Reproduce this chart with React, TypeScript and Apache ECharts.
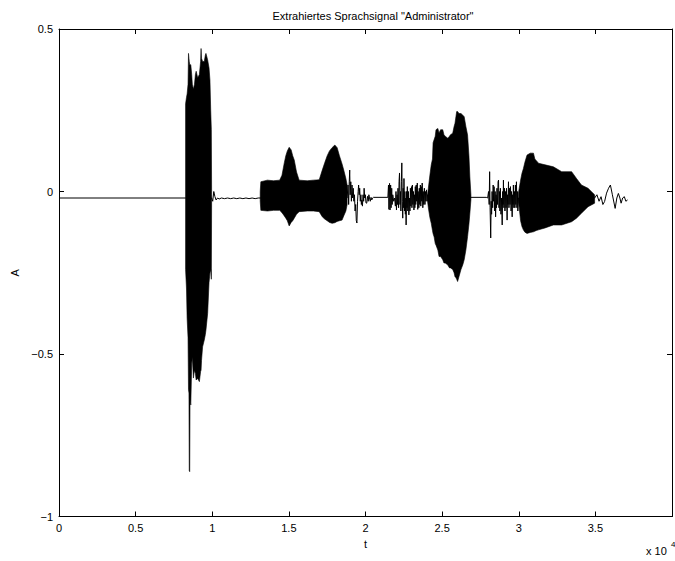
import React, { useEffect, useRef } from "react";
import * as echarts from "echarts";

// ---- data (t in units of 10^4 samples, A amplitude) ----
const titleText = 'Extrahiertes Sprachsignal "Administrator"';
const xTickStep = 0.5;
const yTickStep = 0.5;

// sparse parts of the signal, drawn as a line
const tracePoints: [number, number][] = [
  [0, -0.02], [0.826, -0.02], [0.996, -0.02],
  [1.003, -0.03], [1.01, 0.0], [1.017, -0.015], [1.025, -0.026], [1.035, -0.02], [1.045, -0.023],
  [1.06, -0.02], [1.08, -0.022], [1.1, -0.02], [1.12, -0.022], [1.14, -0.02], [1.16, -0.022],
  [1.18, -0.02], [1.2, -0.022], [1.22, -0.02], [1.24, -0.022], [1.26, -0.02], [1.28, -0.022],
  [1.3, -0.02], [1.313, -0.02],
  [1.88, -0.02],
  [1.886, 0.02], [1.89, -0.04], [1.894, 0.03], [1.897, 0.066], [1.9, -0.01], [1.904, 0.03],
  [1.908, -0.03], [1.912, 0.02], [1.916, -0.02], [1.92, 0.01], [1.924, -0.03], [1.928, -0.01],
  [1.932, -0.06], [1.936, -0.04], [1.94, -0.09], [1.944, -0.097], [1.948, -0.03], [1.952, 0.0],
  [1.955, 0.02], [1.959, -0.01], [1.962, 0.01], [1.966, -0.03], [1.97, -0.01], [1.973, -0.04],
  [1.976, -0.026], [1.98, -0.045], [1.984, -0.01], [1.988, -0.03], [1.991, 0.01], [1.995, -0.02],
  [1.999, -0.01], [2.003, -0.035], [2.008, -0.036], [2.013, -0.015], [2.018, -0.03], [2.022, -0.01],
  [2.026, -0.02], [2.031, -0.03], [2.036, -0.018], [2.041, -0.026], [2.046, -0.02], [2.052, -0.018],
  [2.146, -0.018],
  [2.15, 0.02], [2.153, -0.055], [2.157, 0.025], [2.16, -0.057], [2.164, 0.02], [2.167, -0.05],
  [2.171, 0.01], [2.174, -0.04], [2.178, -0.01], [2.184, -0.03], [2.19, -0.02],
  [2.195, -0.045], [2.199, 0.0], [2.202, -0.057], [2.206, -0.01], [2.209, -0.04], [2.212, 0.01],
  [2.216, -0.05], [2.219, 0.03], [2.222, 0.057], [2.225, -0.04], [2.228, 0.0], [2.231, -0.06],
  [2.234, 0.03], [2.237, 0.088], [2.24, -0.03], [2.243, -0.082], [2.246, 0.01], [2.249, -0.05],
  [2.251, 0.04], [2.254, -0.06], [2.257, 0.0], [2.26, -0.07], [2.263, -0.02], [2.265, -0.103],
  [2.268, 0.0], [2.271, -0.05], [2.273, 0.015], [2.276, -0.06], [2.28, 0.0], [2.283, -0.072],
  [2.286, -0.02], [2.29, -0.06], [2.293, 0.01], [2.296, -0.045], [2.3, 0.015], [2.303, -0.05],
  [2.306, 0.02], [2.309, -0.04], [2.313, 0.0], [2.316, -0.057], [2.319, -0.01], [2.322, -0.05],
  [2.325, 0.015], [2.328, -0.04], [2.331, 0.02], [2.334, -0.03], [2.338, 0.026], [2.341, -0.055],
  [2.344, 0.0], [2.348, -0.05], [2.351, 0.01], [2.354, -0.04], [2.358, 0.02], [2.361, -0.045],
  [2.364, 0.015], [2.367, -0.03], [2.37, 0.026], [2.374, -0.05], [2.377, 0.0], [2.38, -0.04],
  [2.384, 0.01], [2.388, -0.04], [2.391, 0.0], [2.394, -0.03], [2.398, 0.005], [2.402, -0.03],
  [2.405, -0.01],
  [2.688, -0.018], [2.788, -0.018],
  [2.797, -0.02], [2.803, 0.0], [2.807, -0.04], [2.81, 0.061], [2.813, -0.05], [2.817, -0.143],
  [2.82, -0.03], [2.823, -0.07], [2.826, 0.0], [2.83, -0.05], [2.833, 0.02], [2.836, -0.03],
  [2.839, 0.015], [2.843, -0.06], [2.846, 0.0], [2.849, -0.078], [2.852, -0.01], [2.855, -0.05],
  [2.858, 0.01], [2.862, -0.04], [2.865, 0.03], [2.868, 0.035], [2.871, -0.05], [2.874, 0.0],
  [2.877, -0.06], [2.88, 0.01], [2.884, -0.07], [2.888, -0.02], [2.892, -0.103], [2.895, 0.0],
  [2.898, -0.04], [2.9, 0.035], [2.903, -0.05], [2.907, 0.01], [2.91, -0.06], [2.913, 0.0],
  [2.917, -0.05], [2.92, 0.01], [2.924, -0.088], [2.927, -0.01], [2.93, -0.04], [2.933, 0.03],
  [2.936, -0.05], [2.94, 0.01], [2.943, -0.04], [2.946, 0.015], [2.95, -0.06], [2.953, 0.0],
  [2.957, -0.078], [2.96, -0.01], [2.963, -0.04], [2.965, 0.02], [2.968, -0.05], [2.972, 0.0],
  [2.975, -0.05], [2.978, 0.02], [2.981, -0.04], [2.985, 0.03], [2.988, -0.05], [2.991, 0.0],
  [2.994, -0.06], [2.998, -0.02],
  [3.495, -0.02], [3.51, -0.01], [3.524, -0.03], [3.537, -0.016], [3.549, -0.04], [3.56, -0.031],
  [3.573, -0.005], [3.586, 0.01], [3.598, 0.02], [3.611, -0.01], [3.629, -0.052], [3.64, -0.02],
  [3.65, -0.006], [3.66, -0.02], [3.668, -0.036], [3.678, -0.02], [3.689, -0.016], [3.699, -0.03],
  [3.71, -0.026],
];

// dense voiced parts: [t, upper envelope, lower envelope]
const burstAd: [number, number, number][] = [
  [0.826, 0.27, -0.24], [0.832, 0.29, -0.3], [0.836, 0.3, -0.39], [0.842, 0.33, -0.45],
  [0.845, 0.425, -0.61], [0.848, 0.41, -0.62], [0.85, 0.4, -0.86], [0.853, 0.39, -0.862],
  [0.855, 0.39, -0.64], [0.86, 0.39, -0.657], [0.866, 0.36, -0.53], [0.87, 0.33, -0.51],
  [0.877, 0.315, -0.574], [0.884, 0.33, -0.55], [0.89, 0.36, -0.56], [0.895, 0.37, -0.58],
  [0.905, 0.35, -0.575], [0.916, 0.36, -0.585], [0.924, 0.4, -0.554], [0.927, 0.44, -0.55],
  [0.93, 0.41, -0.52], [0.937, 0.4, -0.478], [0.948, 0.4, -0.457], [0.955, 0.42, -0.44],
  [0.959, 0.425, -0.426], [0.97, 0.405, -0.375], [0.979, 0.38, -0.28], [0.985, 0.343, -0.25],
  [0.99, 0.25, -0.24], [0.994, 0.19, -0.27], [0.996, -0.01, -0.03],
];
const burstMin: [number, number, number][] = [
  [1.313, 0.0, -0.03], [1.317, 0.03, -0.058], [1.36, 0.035, -0.06], [1.4, 0.033, -0.058],
  [1.44, 0.035, -0.058], [1.455, 0.05, -0.065], [1.47, 0.088, -0.075], [1.48, 0.11, -0.082],
  [1.49, 0.125, -0.09], [1.502, 0.136, -0.106], [1.515, 0.128, -0.095], [1.525, 0.11, -0.09],
  [1.535, 0.097, -0.082], [1.55, 0.06, -0.07], [1.567, 0.035, -0.062], [1.62, 0.033, -0.06],
  [1.66, 0.035, -0.06], [1.698, 0.036, -0.062], [1.718, 0.066, -0.078], [1.735, 0.09, -0.085],
  [1.75, 0.11, -0.09], [1.765, 0.125, -0.095], [1.782, 0.135, -0.098], [1.8, 0.143, -0.096],
  [1.815, 0.135, -0.092], [1.83, 0.11, -0.09], [1.847, 0.085, -0.088], [1.858, 0.066, -0.075],
  [1.872, 0.04, -0.06], [1.88, 0.02, -0.04],
];
const burstStra: [number, number, number][] = [
  [2.405, -0.01, -0.03], [2.41, 0.01, -0.05], [2.42, 0.05, -0.08], [2.429, 0.082, -0.098],
  [2.437, 0.1, -0.12], [2.441, 0.15, -0.13], [2.448, 0.16, -0.14], [2.455, 0.17, -0.16],
  [2.46, 0.19, -0.165], [2.472, 0.194, -0.18], [2.48, 0.18, -0.2], [2.49, 0.19, -0.2],
  [2.504, 0.19, -0.21], [2.512, 0.175, -0.22], [2.52, 0.17, -0.22], [2.537, 0.164, -0.226],
  [2.548, 0.17, -0.235], [2.555, 0.175, -0.235], [2.569, 0.179, -0.24], [2.578, 0.2, -0.25],
  [2.584, 0.21, -0.262], [2.59, 0.23, -0.265], [2.595, 0.246, -0.27], [2.601, 0.246, -0.277],
  [2.61, 0.24, -0.262], [2.623, 0.24, -0.24], [2.635, 0.235, -0.225], [2.644, 0.23, -0.21],
  [2.655, 0.2, -0.18], [2.666, 0.174, -0.139], [2.675, 0.11, -0.1], [2.681, 0.045, -0.067],
  [2.688, -0.01, -0.025],
];
const burstTor: [number, number, number][] = [
  [2.998, -0.005, -0.03], [3.003, 0.01, -0.05], [3.012, 0.035, -0.09], [3.021, 0.056, -0.108],
  [3.03, 0.07, -0.118], [3.04, 0.09, -0.125], [3.054, 0.112, -0.129], [3.075, 0.118, -0.126],
  [3.096, 0.118, -0.124], [3.105, 0.1, -0.122], [3.115, 0.095, -0.12], [3.129, 0.087, -0.118],
  [3.172, 0.082, -0.112], [3.226, 0.076, -0.103], [3.28, 0.061, -0.103], [3.345, 0.061, -0.093],
  [3.377, 0.04, -0.082], [3.409, 0.02, -0.067], [3.452, 0.01, -0.047], [3.495, -0.01, -0.036],
];

const FONT = "'Liberation Sans', Arial, Helvetica, sans-serif";
const minus = (v: number) => String(v).replace("-", "\u2212");

function burstSeries(rows: [number, number, number][], name: string) {
  return {
    type: "custom",
    name,
    data: rows,
    encode: { x: 0, y: [1, 2] },
    z: 3,
    silent: true,
    renderItem: (params: any, api: any) => {
      if (params.dataIndex !== 0) return null;
      const upper = rows.map((r) => api.coord([r[0], r[1]]));
      const lower = rows.slice().reverse().map((r) => api.coord([r[0], r[2]]));
      return {
        type: "polygon",
        shape: { points: upper.concat(lower) },
        style: { fill: "#000", stroke: "#000", lineWidth: 0.6 },
      };
    },
  };
}

export default function App() {
  const ref = useRef<HTMLDivElement>(null);
  useEffect(() => {
    if (!ref.current) return;
    const chart = echarts.init(ref.current, undefined, { renderer: "svg" });
    const axisCommon = {
      type: "value",
      axisLine: { show: true, onZero: false, lineStyle: { color: "#000", width: 1 } },
      axisTick: { show: true, inside: true, length: 5, lineStyle: { color: "#000", width: 1 } },
      splitLine: { show: false },
    };
    chart.setOption({
      animation: false,
      backgroundColor: "#fff",
      title: {
        text: titleText,
        left: 368,
        top: 5,
        textAlign: "center",
        textStyle: { fontSize: 11, fontWeight: "normal", color: "#000", fontFamily: FONT },
      },
      grid: { left: 59, top: 29, width: 619, height: 487.5 },
      xAxis: [
        {
          ...axisCommon,
          position: "bottom",
          min: 0,
          max: 4,
          interval: xTickStep,
          name: "t",
          nameLocation: "middle",
          nameGap: 22,
          nameTextStyle: { color: "#000", fontSize: 11, fontFamily: FONT },
          axisLabel: {
            color: "#000",
            fontSize: 11,
            fontFamily: FONT,
            margin: 6,
            formatter: (v: number) => (v >= 4 ? "" : minus(v)),
          },
        },
        {
          ...axisCommon,
          position: "top",
          min: 0,
          max: 4,
          interval: xTickStep,
          axisLabel: { show: false },
        },
      ],
      yAxis: [
        {
          ...axisCommon,
          position: "left",
          min: -1,
          max: 0.5,
          interval: yTickStep,
          name: "A",
          nameLocation: "middle",
          nameGap: 30,
          nameRotate: 90,
          nameTextStyle: { color: "#000", fontSize: 11, fontFamily: FONT },
          axisLabel: { color: "#000", fontSize: 11, fontFamily: FONT, margin: 6, formatter: minus },
        },
        {
          ...axisCommon,
          position: "right",
          min: -1,
          max: 0.5,
          interval: yTickStep,
          axisLabel: { show: false },
        },
      ],
      graphic: [
        { type: "text", left: 646, top: 545, style: { text: "x 10", fontSize: 11, fontFamily: FONT, fill: "#000" } },
        { type: "text", left: 671, top: 540, style: { text: "4", fontSize: 8, fontFamily: FONT, fill: "#000" } },
      ],
      series: [
        {
          type: "line",
          name: "signal",
          data: tracePoints,
          showSymbol: false,
          symbol: "none",
          lineStyle: { color: "#000", width: 1 },
          z: 2,
          silent: true,
        },
        burstSeries(burstAd, "Ad"),
        burstSeries(burstMin, "min"),
        burstSeries(burstStra, "stra"),
        burstSeries(burstTor, "tor"),
      ],
    });
    return () => chart.dispose();
  }, []);
  return (
    <div
      ref={ref}
      style={{ position: "absolute", left: 0, top: 0, width: 675, height: 561, background: "#fff" }}
    />
  );
}
